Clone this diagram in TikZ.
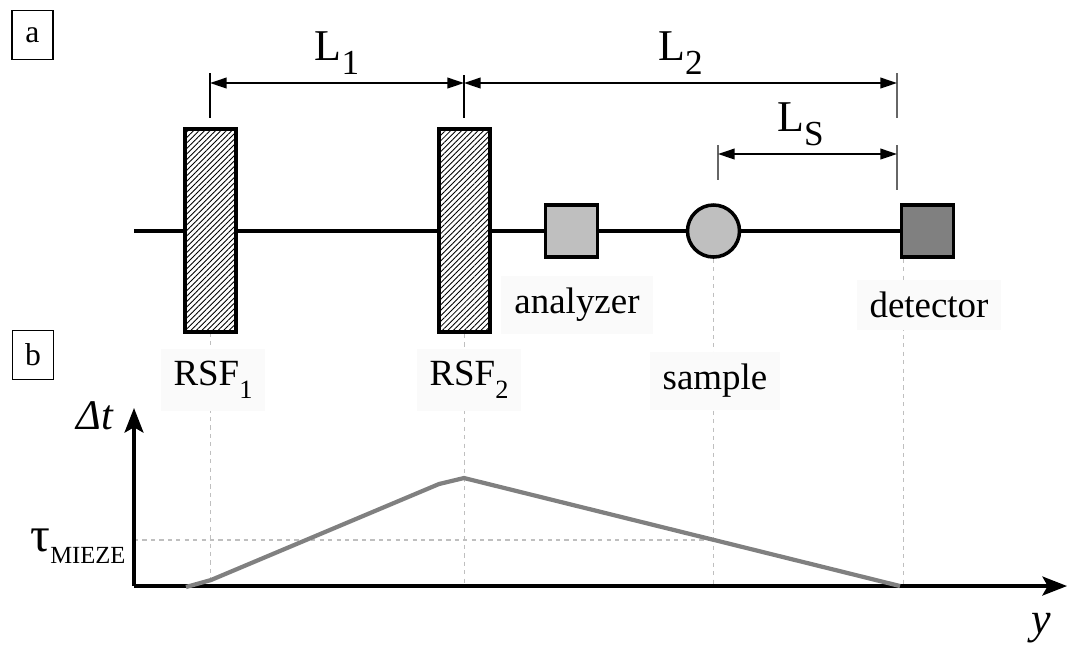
\documentclass[tikz,border=0pt]{standalone}
\usepackage{fontspec}
\setmainfont{Liberation Serif}
\usetikzlibrary{arrows.meta,patterns.meta,backgrounds,positioning}
\newcommand{\lowsub}[1]{\raisebox{-3.6pt}{\fontsize{7.5}{8}\selectfont #1}}
\newcommand{\dimsub}[1]{\raisebox{-4pt}{\fontsize{10}{10}\selectfont #1}}

\tikzset{
  panel/.style={draw, line width=0.5pt, minimum width=0.41cm, minimum height=0.49cm,
    inner sep=0pt, font=\fontsize{9}{10}\selectfont},
  coil/.style={draw, line width=1pt, minimum width=0.51cm, minimum height=2.03cm, inner sep=0pt,
    preaction={fill=white}, pattern={Lines[angle=45,distance=1.1pt,line width=0.25pt]}},
  devbox/.style={draw, line width=1pt, minimum size=0.52cm, inner sep=0pt},
  ball/.style={circle, draw, line width=1pt, fill=black!25, minimum size=0.52cm, inner sep=0pt},
  devlabel/.style={fill=black!2, inner xsep=0.13cm, inner ysep=0.12cm},
  beamline/.style={line width=0.9pt},
  dimline/.style={line width=0.55pt, {Triangle[length=4.7pt,width=3pt]}-{Triangle[length=4.7pt,width=3pt]}},
  dimtick/.style={line width=0.55pt},
  dimlabel/.style={midway, anchor=base, yshift=0.23cm, font=\fontsize{12.5}{13}\selectfont},
  guideline/.style={black!25, line width=0.4pt, dash pattern=on 1.2pt off 1.2pt},
  axisline/.style={line width=0.9pt, -{Stealth[length=7pt,width=5.4pt,inset=1.5pt]}},
  delay/.style={black!50, line width=1.2pt}
}

\begin{document}
\begin{tikzpicture}[x=0.01cm, y=-0.01cm, every node/.style={font=\fontsize{10.5}{12}\selectfont}]
 \useasboundingbox (0,0) rectangle (1067,647);

 % panel letters
 \node[panel] (pa) at (32.5,35) {a};
 \node[panel] (pb) at (33,355) {b};

 % (a) the set-up
 \coordinate (beam) at (134,231);
 \node[coil] (rsf1) at (210.5,230.5) {};
 \node[coil] (rsf2) at (464.5,230.5) {};
 \node[devbox, fill=black!25] (ana) at (571.5,231) {};
 \node[ball] (smp) at (713.5,231) {};
 \node[devbox, fill=black!50] (det) at (927.5,231) {};

 % (b) axes
 \coordinate (O) at (134,586);
 \coordinate (xend) at (1067,586);
 \coordinate (yend) at (134,408);
 \coordinate (tm) at (134,540);

 \begin{scope}[on background layer]
  \draw[beamline] (beam) -- (det.west);
  \draw[guideline] (rsf1.south) -- (rsf1.south |- O);
  \draw[guideline] (rsf2.south) -- (rsf2.south |- O);
  \draw[guideline] (smp.south) -- (smp.south |- O);
  \draw[guideline] ([xshift=1pt]det.south west) -- ([xshift=1pt]det.south west |- O);
  \draw[guideline] (tm) -- (tm -| smp);
 \end{scope}

 \node[devlabel] (lrsf1) at (213,380) {RSF\lowsub{1}};
 \node[devlabel] (lrsf2) at (469,380) {RSF\lowsub{2}};
 \node[devlabel] (lana) at (577,305) {analyzer};
 \node[devlabel] (lsmp) at (715,381) {sample};
 \node[devlabel] (ldet) at (929,305) {detector};

 % distances
 \coordinate (d1) at (210,83);
 \coordinate (d2) at (464,83);
 \coordinate (d3) at (897,83);
 \coordinate (s1) at (718,154);
 \coordinate (s2) at (897,154);
 \draw[dimtick] (d1) ++(0,-10) -- ++(0,45);
 \draw[dimtick] (d2) ++(0,-8) -- ++(0,43);
 \draw[dimtick, black!60] (d3) ++(0,-10) -- ++(0,45);
 \draw[dimtick, black!60] (s1) ++(0,-9) -- ++(0,35);
 \draw[dimtick, black!60] (s2) ++(0,-9) -- ++(0,45);
 \draw[dimline] (d1) -- node[dimlabel] (l1) {L\dimsub{1}} (d2);
 \draw[dimline] (d2) -- node[dimlabel] (l2) {L\dimsub{2}} (d3);
 \draw[dimline] (s1) -- node[dimlabel, xshift=-0.07cm] (ls) {L\dimsub{S}} (s2);

 % (b) path difference
 \draw[axisline] (O) -- (xend);
 \draw[axisline] (O) -- (yend);
 \node (dt) at (95,416) {\fontsize{12}{12}\selectfont\textit{Δt}};
 \node (tau) at (78,546) {{\fontsize{14}{14}\selectfont τ}\raisebox{-3.4pt}{\fontsize{7}{8}\selectfont MIEZE}};
 \node (ylab) at (1041,628) {\fontsize{12.5}{13}\selectfont\textit{y}};
 \draw[delay] (186,587) -- (211,580) -- (439,484) -- (464,478) -- (900,586);
\end{tikzpicture}
\end{document}
